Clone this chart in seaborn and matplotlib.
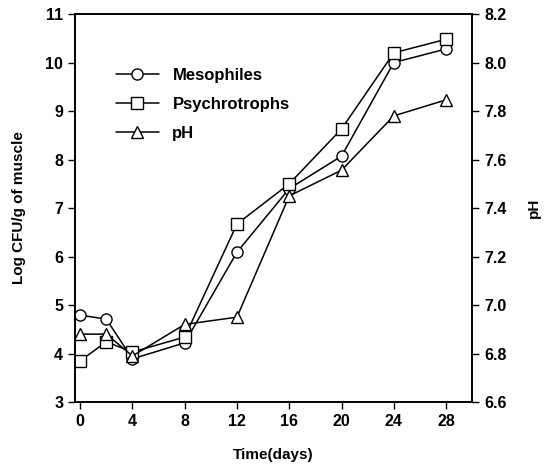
import matplotlib
matplotlib.use("Agg")
import matplotlib.pyplot as plt
import seaborn as sns
import pandas as pd
from matplotlib.lines import Line2D

days = [0, 2, 4, 8, 12, 16, 20, 24, 28]
mesophiles = [4.79, 4.71, 3.89, 4.22, 6.09, 7.40, 8.07, 10.00, 10.28]
psychrotrophs = [3.85, 4.24, 4.03, 4.34, 6.67, 7.50, 8.63, 10.20, 10.48]
ph = [6.88, 6.88, 6.79, 6.92, 6.95, 7.45, 7.556, 7.78, 7.846]

x_ticks = [0, 4, 8, 12, 16, 20, 24, 28]
left_ticks = [3, 4, 5, 6, 7, 8, 9, 10, 11]
right_ticks = [6.6, 6.8, 7.0, 7.2, 7.4, 7.6, 7.8, 8.0, 8.2]

sns.set_style("ticks")
plt.rcParams['font.family'] = ['Liberation Sans', 'DejaVu Sans']
plt.rcParams['font.weight'] = 'bold'
plt.rcParams['text.color'] = 'black'
plt.rcParams['axes.labelcolor'] = 'black'

fig = plt.figure(figsize=(5.51, 4.68), dpi=100)
ax = fig.add_axes([0.136, 0.141, 0.721, 0.829])
ax2 = ax.twinx()

df = pd.DataFrame({
    "day": days * 2,
    "value": mesophiles + psychrotrophs,
    "series": ["Mesophiles"] * len(days) + ["Psychrotrophs"] * len(days),
})
style = dict(color="black", linewidth=1.1, markerfacecolor="white",
             markeredgecolor="black", markersize=8, markeredgewidth=1.0)
sns.lineplot(data=df[df.series == "Mesophiles"], x="day", y="value", marker="o",
             ax=ax, legend=False, **style)
sns.lineplot(data=df[df.series == "Psychrotrophs"], x="day", y="value", marker="s",
             ax=ax, legend=False, **style)
dph = pd.DataFrame({"day": days, "pH": ph})
sns.lineplot(data=dph, x="day", y="pH", marker="^", ax=ax2, legend=False, **style)

ax.set_xlim(-0.4, 30)
ax.set_ylim(3, 11)
ax2.set_ylim(6.6, 8.2)
ax.set_xticks(x_ticks)
ax.set_yticks(left_ticks)
ax2.set_yticks(right_ticks)
ax2.set_yticklabels([f"{v:.1f}" for v in right_ticks])

for a in (ax, ax2):
    for s in a.spines.values():
        s.set_visible(True)
        s.set_linewidth(1.2)
        s.set_color("black")
    a.tick_params(direction="out", length=5, width=1, labelsize=11.5, colors="black")
    for lab in a.get_xticklabels() + a.get_yticklabels():
        lab.set_fontweight("bold")

ax.set_xlabel("Time(days)", fontsize=11, fontweight="bold", labelpad=14, color="black")
ax.set_ylabel("Log CFU/g of muscle", fontsize=11, fontweight="bold", labelpad=14, color="black")
ax2.set_ylabel("pH", fontsize=11, fontweight="bold", labelpad=15, color="black")

handles = [
    Line2D([], [], marker="o", **style),
    Line2D([], [], marker="s", **style),
    Line2D([], [], marker="^", **style),
]
ax.legend(handles, ["Mesophiles", "Psychrotrophs", "pH"], loc="upper left",
          bbox_to_anchor=(0.065, 0.9), frameon=False,
          handlelength=2.6, labelspacing=0.85,
          prop={"weight": "bold", "size": 12})

fig.savefig("out.png", dpi=100)
